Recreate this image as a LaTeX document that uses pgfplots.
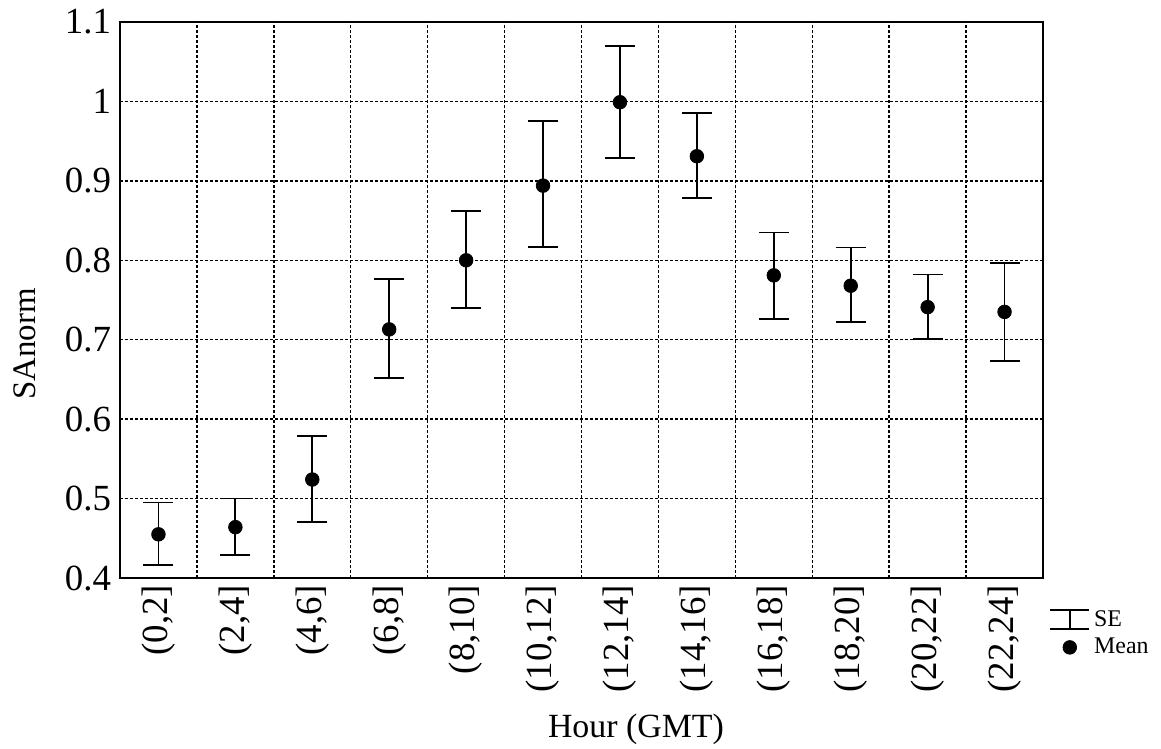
\documentclass[border=0pt]{standalone}
\usepackage{pgfplots}
\pgfplotsset{compat=1.18}
\usepackage{fontspec}
\setmainfont{Liberation Serif}
\begin{document}
\begin{tikzpicture}
\begin{axis}[
  at={(0,0)}, anchor=south west,
  scale only axis, width=461.5bp, height=278bp,
  xmin=-0.5, xmax=11.5, ymin=0.4, ymax=1.1,
  xtick={0,...,11},
  xticklabels={{(0,2]},{(2,4]},{(4,6]},{(6,8]},{(8,10]},{(10,12]},{(12,14]},{(14,16]},{(16,18]},{(18,20]},{(20,22]},{(22,24]}},
  x tick label style={rotate=90, anchor=east, yshift=0bp, font=\fontsize{18.5}{20}\selectfont},
  y tick label style={font=\fontsize{18.5}{20}\selectfont, xshift=-1bp},
  major x tick style={draw=none},
  minor xtick={0.5,1.5,...,10.5},
  minor x tick style={draw=none},
  xminorgrids=true,
  ytick={0.4,0.5,0.6,0.7,0.8,0.9,1,1.1},
  major y tick style={draw=none},
  ymajorgrids=true,
  grid style={black, line width=0.7bp, dash pattern=on 1.4bp off 1.1bp},
  minor grid style={black, line width=0.7bp, dash pattern=on 1.4bp off 1.1bp},
  axis line style={line width=0.9bp},
  /pgf/number format/assume math mode=true,
  xlabel={Hour (GMT)},
  ylabel={SAnorm},
  xlabel style={at={(axis description cs:0.559,-0.273)}, anchor=center, font=\fontsize{17}{19}\selectfont},
  ylabel style={at={(axis description cs:-0.103,0.421)}, anchor=center, font=\fontsize{16.5}{19}\selectfont},
  legend style={at={(axis description cs:1.0,-0.043)}, anchor=north west, draw=none, fill=none, font=\fontsize{12}{13}\selectfont, row sep=0.5bp},
  legend cell align=left,
]
\addplot[black, only marks, mark=*, mark size=3.4bp, forget plot,
  error bars/.cd, y dir=both, y explicit,
  error bar style={line width=0.9bp},
  error mark options={rotate=90, mark size=7.5bp, line width=0.9bp}]
  table[x=x, y=y, y error plus=ep, y error minus=em] {
x  y      ep     em
0  0.455  0.040  0.039
1  0.464  0.036  0.035
2  0.524  0.055  0.053
3  0.713  0.063  0.061
4  0.800  0.062  0.060
5  0.894  0.081  0.077
6  0.999  0.071  0.070
7  0.931  0.054  0.053
8  0.781  0.054  0.055
9  0.768  0.048  0.046
10 0.741  0.041  0.040
11 0.735  0.062  0.062
};
\addlegendimage{legend image code/.code={\draw[line width=0.9bp] (0bp,4.75bp)--(19.5bp,4.75bp) (0bp,-4.75bp)--(19.5bp,-4.75bp) (9.75bp,-4.75bp)--(9.75bp,4.75bp);}}
\addlegendentry{SE}
\addlegendimage{legend image code/.code={\fill[black] (9.75bp,0bp) circle (3.4bp); \path (19.5bp,0bp);}}
\addlegendentry{Mean}
\end{axis}
\pgfresetboundingbox
\useasboundingbox (-60bp,-85.5bp) rectangle (520.5bp,289bp);
\end{tikzpicture}
\end{document}
